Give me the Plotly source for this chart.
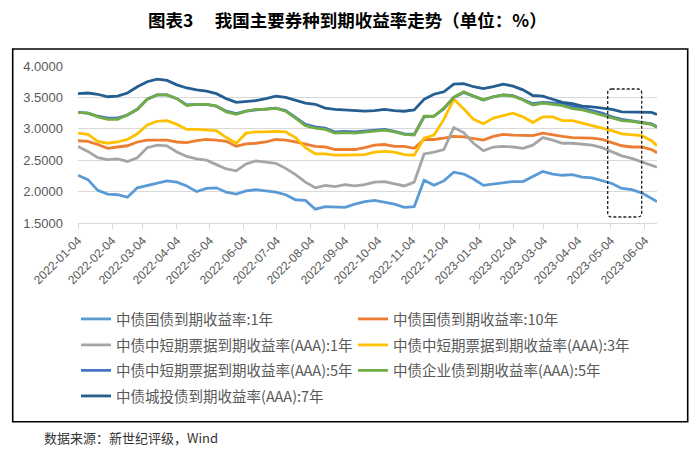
import plotly.graph_objects as go

dates = ["2022-01-04","2022-01-13","2022-01-22","2022-01-31","2022-02-09","2022-02-18","2022-02-27","2022-03-08","2022-03-17","2022-03-26",
         "2022-04-04","2022-04-13","2022-04-22","2022-05-01","2022-05-10","2022-05-19","2022-05-28","2022-06-06","2022-06-15","2022-06-24",
         "2022-07-03","2022-07-12","2022-07-21","2022-07-30","2022-08-08","2022-08-17","2022-08-26","2022-09-04","2022-09-13","2022-09-22",
         "2022-10-01","2022-10-10","2022-10-19","2022-10-28","2022-11-06","2022-11-15","2022-11-24","2022-12-03","2022-12-12","2022-12-21",
         "2022-12-30","2023-01-08","2023-01-17","2023-01-26","2023-02-04","2023-02-13","2023-02-22","2023-03-03","2023-03-12","2023-03-21",
         "2023-03-30","2023-04-08","2023-04-17","2023-04-26","2023-05-05","2023-05-14","2023-05-23","2023-06-01","2023-06-10","2023-06-15"]

gov_1y = [2.26,2.19,2.02,1.96,1.95,1.91,2.06,2.10,2.14,2.17, 2.15,2.09,2.00,2.05,2.06,1.99,1.96,2.01,2.03,2.01,
          1.99,1.95,1.87,1.86,1.72,1.76,1.76,1.75,1.80,1.84, 1.86,1.83,1.80,1.75,1.76,2.18,2.10,2.17,2.31,2.28,
          2.20,2.10,2.12,2.15,2.16,2.16,2.24,2.32,2.28,2.26, 2.27,2.23,2.22,2.18,2.13,2.05,2.03,1.98,1.89,1.84]
gov_10y = [2.81,2.80,2.75,2.69,2.71,2.73,2.79,2.82,2.82,2.82, 2.79,2.78,2.81,2.83,2.82,2.80,2.72,2.76,2.77,2.79,
           2.83,2.82,2.79,2.76,2.72,2.71,2.67,2.67,2.67,2.70, 2.74,2.75,2.72,2.72,2.69,2.83,2.83,2.85,2.88,2.87,
           2.85,2.82,2.88,2.91,2.90,2.89,2.89,2.93,2.90,2.88, 2.86,2.86,2.85,2.83,2.78,2.73,2.71,2.71,2.67,2.62]
mtn_1y = [2.72,2.64,2.54,2.51,2.52,2.48,2.54,2.70,2.74,2.73, 2.63,2.56,2.52,2.50,2.43,2.36,2.33,2.44,2.49,2.47,
          2.45,2.37,2.27,2.15,2.06,2.10,2.08,2.11,2.09,2.11, 2.15,2.16,2.13,2.09,2.15,2.60,2.63,2.67,3.02,2.94,
          2.77,2.65,2.71,2.72,2.71,2.69,2.74,2.86,2.82,2.77, 2.77,2.75,2.74,2.70,2.63,2.57,2.53,2.48,2.43,2.39]
mtn_3y = [2.93,2.91,2.80,2.77,2.79,2.83,2.92,3.06,3.12,3.13, 3.07,2.99,2.99,2.98,2.97,2.86,2.77,2.93,2.95,2.95,
          2.96,2.95,2.86,2.70,2.60,2.60,2.58,2.58,2.58,2.59, 2.63,2.64,2.63,2.59,2.58,2.85,2.90,3.15,3.47,3.32,
          3.15,3.08,3.17,3.21,3.25,3.19,3.10,3.19,3.19,3.13, 3.13,3.09,3.05,3.02,2.97,2.92,2.90,2.89,2.81,2.73]
mtn_5y = [3.26,3.25,3.20,3.17,3.17,3.22,3.31,3.47,3.54,3.54, 3.48,3.38,3.39,3.39,3.36,3.28,3.24,3.28,3.30,3.31,
          3.33,3.29,3.18,3.07,3.03,3.01,2.95,2.96,2.95,2.96, 2.98,2.99,2.96,2.92,2.91,3.19,3.20,3.32,3.50,3.58,
          3.52,3.46,3.51,3.54,3.53,3.47,3.40,3.42,3.41,3.40, 3.36,3.33,3.29,3.25,3.19,3.15,3.13,3.11,3.08,3.03]
corp_5y = [3.26,3.25,3.19,3.15,3.15,3.22,3.31,3.47,3.54,3.54, 3.48,3.37,3.39,3.39,3.36,3.27,3.23,3.28,3.31,3.31,
           3.33,3.28,3.17,3.05,3.01,2.99,2.93,2.94,2.93,2.95, 2.97,2.98,2.95,2.91,2.90,3.20,3.20,3.33,3.50,3.59,
           3.52,3.46,3.51,3.54,3.52,3.46,3.38,3.41,3.39,3.37, 3.32,3.30,3.26,3.22,3.17,3.13,3.12,3.10,3.07,3.02]
urban_7y = [3.56,3.57,3.55,3.51,3.52,3.57,3.67,3.75,3.79,3.77, 3.70,3.65,3.62,3.60,3.56,3.48,3.42,3.43,3.45,3.48,
            3.52,3.50,3.45,3.41,3.39,3.33,3.31,3.30,3.30,3.28, 3.29,3.31,3.29,3.28,3.30,3.47,3.55,3.59,3.71,3.72,
            3.67,3.64,3.67,3.71,3.68,3.62,3.53,3.52,3.47,3.42, 3.40,3.36,3.35,3.33,3.31,3.27,3.27,3.27,3.26,3.23]

series_names = ["中债国债到期收益率:1年", "中债国债到期收益率:10年",
                "中债中短期票据到期收益率(AAA):1年", "中债中短期票据到期收益率(AAA):3年",
                "中债中短期票据到期收益率(AAA):5年", "中债企业债到期收益率(AAA):5年",
                "中债城投债到期收益率(AAA):7年"]
series_values = [gov_1y, gov_10y, mtn_1y, mtn_3y, mtn_5y, corp_5y, urban_7y]
series_colors = ["#5B9BD5", "#ED7D31", "#A5A5A5", "#FFC000", "#4472C4", "#70AD47", "#255E91"]

tick_labels = ["2022-01-04","2022-02-04","2022-03-04","2022-04-04","2022-05-04","2022-06-04",
               "2022-07-04","2022-08-04","2022-09-04","2022-10-04","2022-11-04","2022-12-04",
               "2023-01-04","2023-02-04","2023-03-04","2023-04-04","2023-05-04","2023-06-04"]
y_ticks = [1.5, 2.0, 2.5, 3.0, 3.5, 4.0]

title_text = "图表3　 我国主要券种到期收益率走势（单位：%）"
source_text = "数据来源：新世纪评级，Wind"

# layout geometry (pixels)
FW, FH = 700, 453
ML, MR, MT, MB = 78, 43, 66, 230
PW = FW - ML - MR
PH = FH - MT - MB
BOTTOM = FH - MB


def xp(px):
    return (px - ML) / PW


def yp(py):
    return (BOTTOM - py) / PH


def cx(px):
    return px / FW


def cy(py):
    return 1 - py / FH


legend_ids = ["legend", "legend", "legend2", "legend2", "legend3", "legend3", "legend4"]

fig = go.Figure()
for name, vals, col, lg in zip(series_names, series_values, series_colors, legend_ids):
    fig.add_trace(go.Scatter(x=dates, y=vals, name=name, mode="lines", legend=lg,
                             line=dict(color=col, width=2.8)))

CJK = "Noto Sans CJK SC"
GRAY = "#595959"

row_y = [319, 345, 370.5, 396]
legend_common = dict(orientation="h", xref="container", yref="container",
                     x=cx(76), xanchor="left", yanchor="middle",
                     entrywidth=232, entrywidthmode="pixels", traceorder="normal",
                     font=dict(family=CJK, size=14.5, color=GRAY), itemwidth=30,
                     bgcolor="rgba(0,0,0,0)", borderwidth=0)

fig.update_layout(
    template="none",
    width=FW, height=FH,
    margin=dict(l=ML, r=MR, t=MT, b=MB, pad=0, autoexpand=False),
    paper_bgcolor="white", plot_bgcolor="white",
    showlegend=True,
    legend=dict(legend_common, y=cy(row_y[0])),
    legend2=dict(legend_common, y=cy(row_y[1])),
    legend3=dict(legend_common, y=cy(row_y[2])),
    legend4=dict(legend_common, y=cy(row_y[3])),
    xaxis=dict(type="date", range=["2022-01-04", "2023-06-15"], automargin=False,
               tickmode="array", tickvals=tick_labels, ticktext=tick_labels,
               tickangle=-45, ticks="outside", ticklen=5, tickcolor="#D9D9D9",
               showline=True, linecolor="#D9D9D9", linewidth=1, showgrid=False,
               tickfont=dict(family="Liberation Sans", size=12, color=GRAY)),
    yaxis=dict(range=[1.5, 4.0], tickmode="array", tickvals=y_ticks, tickformat=".4f",
               automargin=False,
               showgrid=True, gridcolor="#D9D9D9", gridwidth=1, zeroline=False,
               showline=False, ticks="", ticklabelstandoff=14,
               tickfont=dict(family="Liberation Sans", size=13, color=GRAY)),
)

# outer frame
fig.add_shape(type="rect", xref="paper", yref="paper",
              x0=xp(12.7), x1=xp(687.7), y0=yp(421.7), y1=yp(49),
              line=dict(color="black", width=1.6), layer="above")

# dashed rounded highlight box
bx0, bx1, by0, by1, r = 607.7, 641.7, 89, 217, 4
path = (f"M{xp(bx0 + r)},{yp(by0)} L{xp(bx1 - r)},{yp(by0)} "
        f"Q{xp(bx1)},{yp(by0)} {xp(bx1)},{yp(by0 + r)} "
        f"L{xp(bx1)},{yp(by1 - r)} Q{xp(bx1)},{yp(by1)} {xp(bx1 - r)},{yp(by1)} "
        f"L{xp(bx0 + r)},{yp(by1)} Q{xp(bx0)},{yp(by1)} {xp(bx0)},{yp(by1 - r)} "
        f"L{xp(bx0)},{yp(by0 + r)} Q{xp(bx0)},{yp(by0)} {xp(bx0 + r)},{yp(by0)} Z")
fig.add_shape(type="path", xref="paper", yref="paper", path=path,
              line=dict(color="#222222", width=1.3, dash="3px,2px"), layer="above")

fig.add_annotation(text=title_text, xref="paper", yref="paper", x=xp(347), y=yp(19),
                   xanchor="center", yanchor="middle", showarrow=False,
                   font=dict(family=CJK, size=17.5, color="black", weight=700))
fig.add_annotation(text=source_text, xref="paper", yref="paper", x=xp(42), y=yp(437),
                   xanchor="left", yanchor="middle", showarrow=False,
                   font=dict(family=CJK, size=13, color="#333333"))

fig.write_html("out.html", config={"displayModeBar": False},
               post_script="document.body.style.margin='0';document.body.style.padding='0';")
